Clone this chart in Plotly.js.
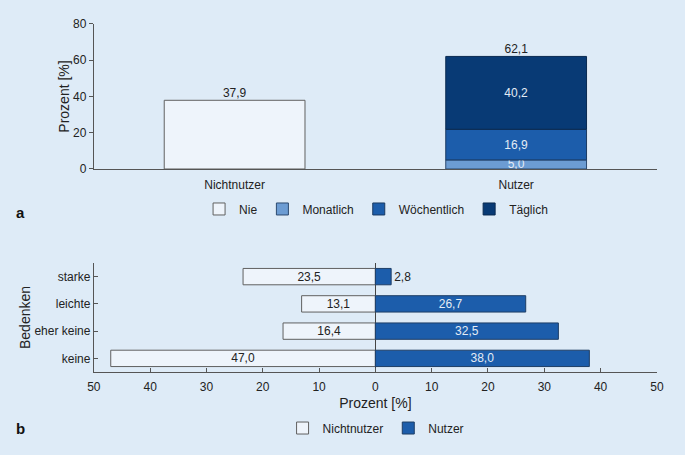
<!DOCTYPE html>
<html><head><meta charset="utf-8">
<script src="https://cdn.plot.ly/plotly-3.0.1.min.js"></script>
<style>html,body{margin:0;padding:0;background:#deebf7;}#c{width:685px;height:455px;}</style>
</head><body><div id="c"></div>
<script>
// Panel a
const groupsA = ['Nichtnutzer', 'Nutzer'];
const nie = [37.9];
const monatlich = [5.0];
const woechentlich = [16.9];
const taeglich = [40.2];
const totalsA = [37.9, 62.1];
// Panel b
const bedenken = ['keine', 'eher keine', 'leichte', 'starke'];
const nichtnutzerB = [47.0, 16.4, 13.1, 23.5];
const nutzerB = [38.0, 32.5, 26.7, 2.8];
const xTickVals = [-50, -40, -30, -20, -10, 0, 10, 20, 30, 40, 50];
const xTickText = ['50', '40', '30', '20', '10', '0', '10', '20', '30', '40', '50'];

const fmt = v => v.toFixed(1).replace('.', ',');
const FONT = 'Liberation Sans, Arial, sans-serif';
const light = '#e4ecf5', dark = '#222';

const traces = [
  {type:'bar', name:'Nie', x:[groupsA[0]], y:nie, width:0.5,
   marker:{color:'#eef4fb', line:{color:'#606060', width:1}},
   hoverinfo:'none', xaxis:'x', yaxis:'y', legend:'legend'},
  {type:'bar', name:'Monatlich', x:[groupsA[1]], y:monatlich, width:0.5,
   text:monatlich.map(fmt), textposition:'inside', constraintext:'none', insidetextanchor:'middle',
   insidetextfont:{color:light, size:12, family:FONT},
   marker:{color:'#6c9cd3', line:{color:'#2c4a70', width:1}}, xaxis:'x', yaxis:'y', legend:'legend'},
  {type:'bar', name:'Wöchentlich', x:[groupsA[1]], y:woechentlich, width:0.5,
   text:woechentlich.map(fmt), textposition:'inside', constraintext:'none', insidetextanchor:'middle',
   insidetextfont:{color:light, size:12, family:FONT},
   marker:{color:'#1c5dab', line:{color:'#1a3a62', width:1}}, xaxis:'x', yaxis:'y', legend:'legend'},
  {type:'bar', name:'Täglich', x:[groupsA[1]], y:taeglich, width:0.5,
   text:taeglich.map(fmt), textposition:'inside', constraintext:'none', insidetextanchor:'middle',
   insidetextfont:{color:light, size:12, family:FONT},
   marker:{color:'#083a75', line:{color:'#0a2a50', width:1}}, xaxis:'x', yaxis:'y', legend:'legend'},
  {type:'scatter', mode:'text', x:groupsA, y:totalsA, text:totalsA.map(fmt),
   textposition:'top center', textfont:{color:dark, size:12, family:FONT},
   showlegend:false, hoverinfo:'none', xaxis:'x', yaxis:'y', cliponaxis:false},
  {type:'bar', orientation:'h', name:'Nichtnutzer', y:bedenken, x:nichtnutzerB.map(v=>-v), width:0.6,
   text:nichtnutzerB.map(fmt), textposition:'inside', insidetextanchor:'middle', constraintext:'none',
   insidetextfont:{color:dark, size:12, family:FONT},
   marker:{color:'#eef4fb', line:{color:'#606060', width:1}}, xaxis:'x2', yaxis:'y2', legend:'legend2'},
  {type:'bar', orientation:'h', name:'Nutzer', y:bedenken, x:nutzerB, width:0.6,
   text:nutzerB.map(fmt), textposition:'auto', constraintext:'none', insidetextanchor:'middle',
   insidetextfont:{color:light, size:12, family:FONT},
   outsidetextfont:{color:dark, size:12, family:FONT},
   marker:{color:'#1c5dab', line:{color:'#1e3e66', width:1}}, xaxis:'x2', yaxis:'y2', legend:'legend2'}
];

const axCommon = {showline:true, linecolor:'#555', linewidth:1, showgrid:false, zeroline:false,
  tickfont:{size:12, color:dark, family:FONT}, ticklen:4, tickcolor:'#555'};

const layout = {
  width:685, height:455, paper_bgcolor:'#deebf7', plot_bgcolor:'#deebf7',
  margin:{l:0, r:0, t:0, b:0}, barmode:'relative', bargap:0,
  font:{family:FONT, color:dark, size:12},
  xaxis:Object.assign({}, axCommon, {domain:[0.137, 0.959], anchor:'y', type:'category',
    range:[-0.5, 1.5], ticks:'', ticklabelstandoff:5}),
  yaxis:Object.assign({}, axCommon, {domain:[0.6286, 0.9473], anchor:'x', range:[0, 80],
    tickvals:[0,20,40,60,80], ticks:'outside',
    title:{text:'Prozent [%]', font:{size:14, color:dark, family:FONT}, standoff:0}}),
  xaxis2:Object.assign({}, axCommon, {domain:[0.137, 0.959], anchor:'y2', range:[-50, 50],
    tickvals:xTickVals, ticktext:xTickText, ticks:'inside', ticklabelstandoff:4,
    zeroline:true, zerolinecolor:'#444', zerolinewidth:1,
    title:{text:'Prozent [%]', font:{size:14, color:dark, family:FONT}, standoff:4}}),
  yaxis2:Object.assign({}, axCommon, {domain:[0.1824, 0.422], anchor:'x2', type:'category',
    range:[-0.5, 3.5], ticks:'inside',
    title:{text:'Bedenken', font:{size:14, color:dark, family:FONT}, standoff:0}}),
  legend:{orientation:'h', x:0.549, xanchor:'center', y:0.5407, yanchor:'middle',
    bgcolor:'rgba(0,0,0,0)', font:{size:12, color:dark, family:FONT}, traceorder:'normal'},
  legend2:{orientation:'h', x:0.549, xanchor:'center', y:0.0593, yanchor:'middle',
    bgcolor:'rgba(0,0,0,0)', font:{size:12, color:dark, family:FONT}, traceorder:'normal'},
  annotations:[
    {xref:'paper', yref:'paper', x:20/685, y:1-212/455, text:'<b>a</b>', showarrow:false,
     font:{size:15, color:'#111', family:FONT}, xanchor:'center', yanchor:'middle'},
    {xref:'paper', yref:'paper', x:20/685, y:1-428/455, text:'<b>b</b>', showarrow:false,
     font:{size:15, color:'#111', family:FONT}, xanchor:'center', yanchor:'middle'}
  ],
  showlegend:true
};

Plotly.newPlot('c', traces, layout, {displayModeBar:false, staticPlot:true});
</script></body></html>
